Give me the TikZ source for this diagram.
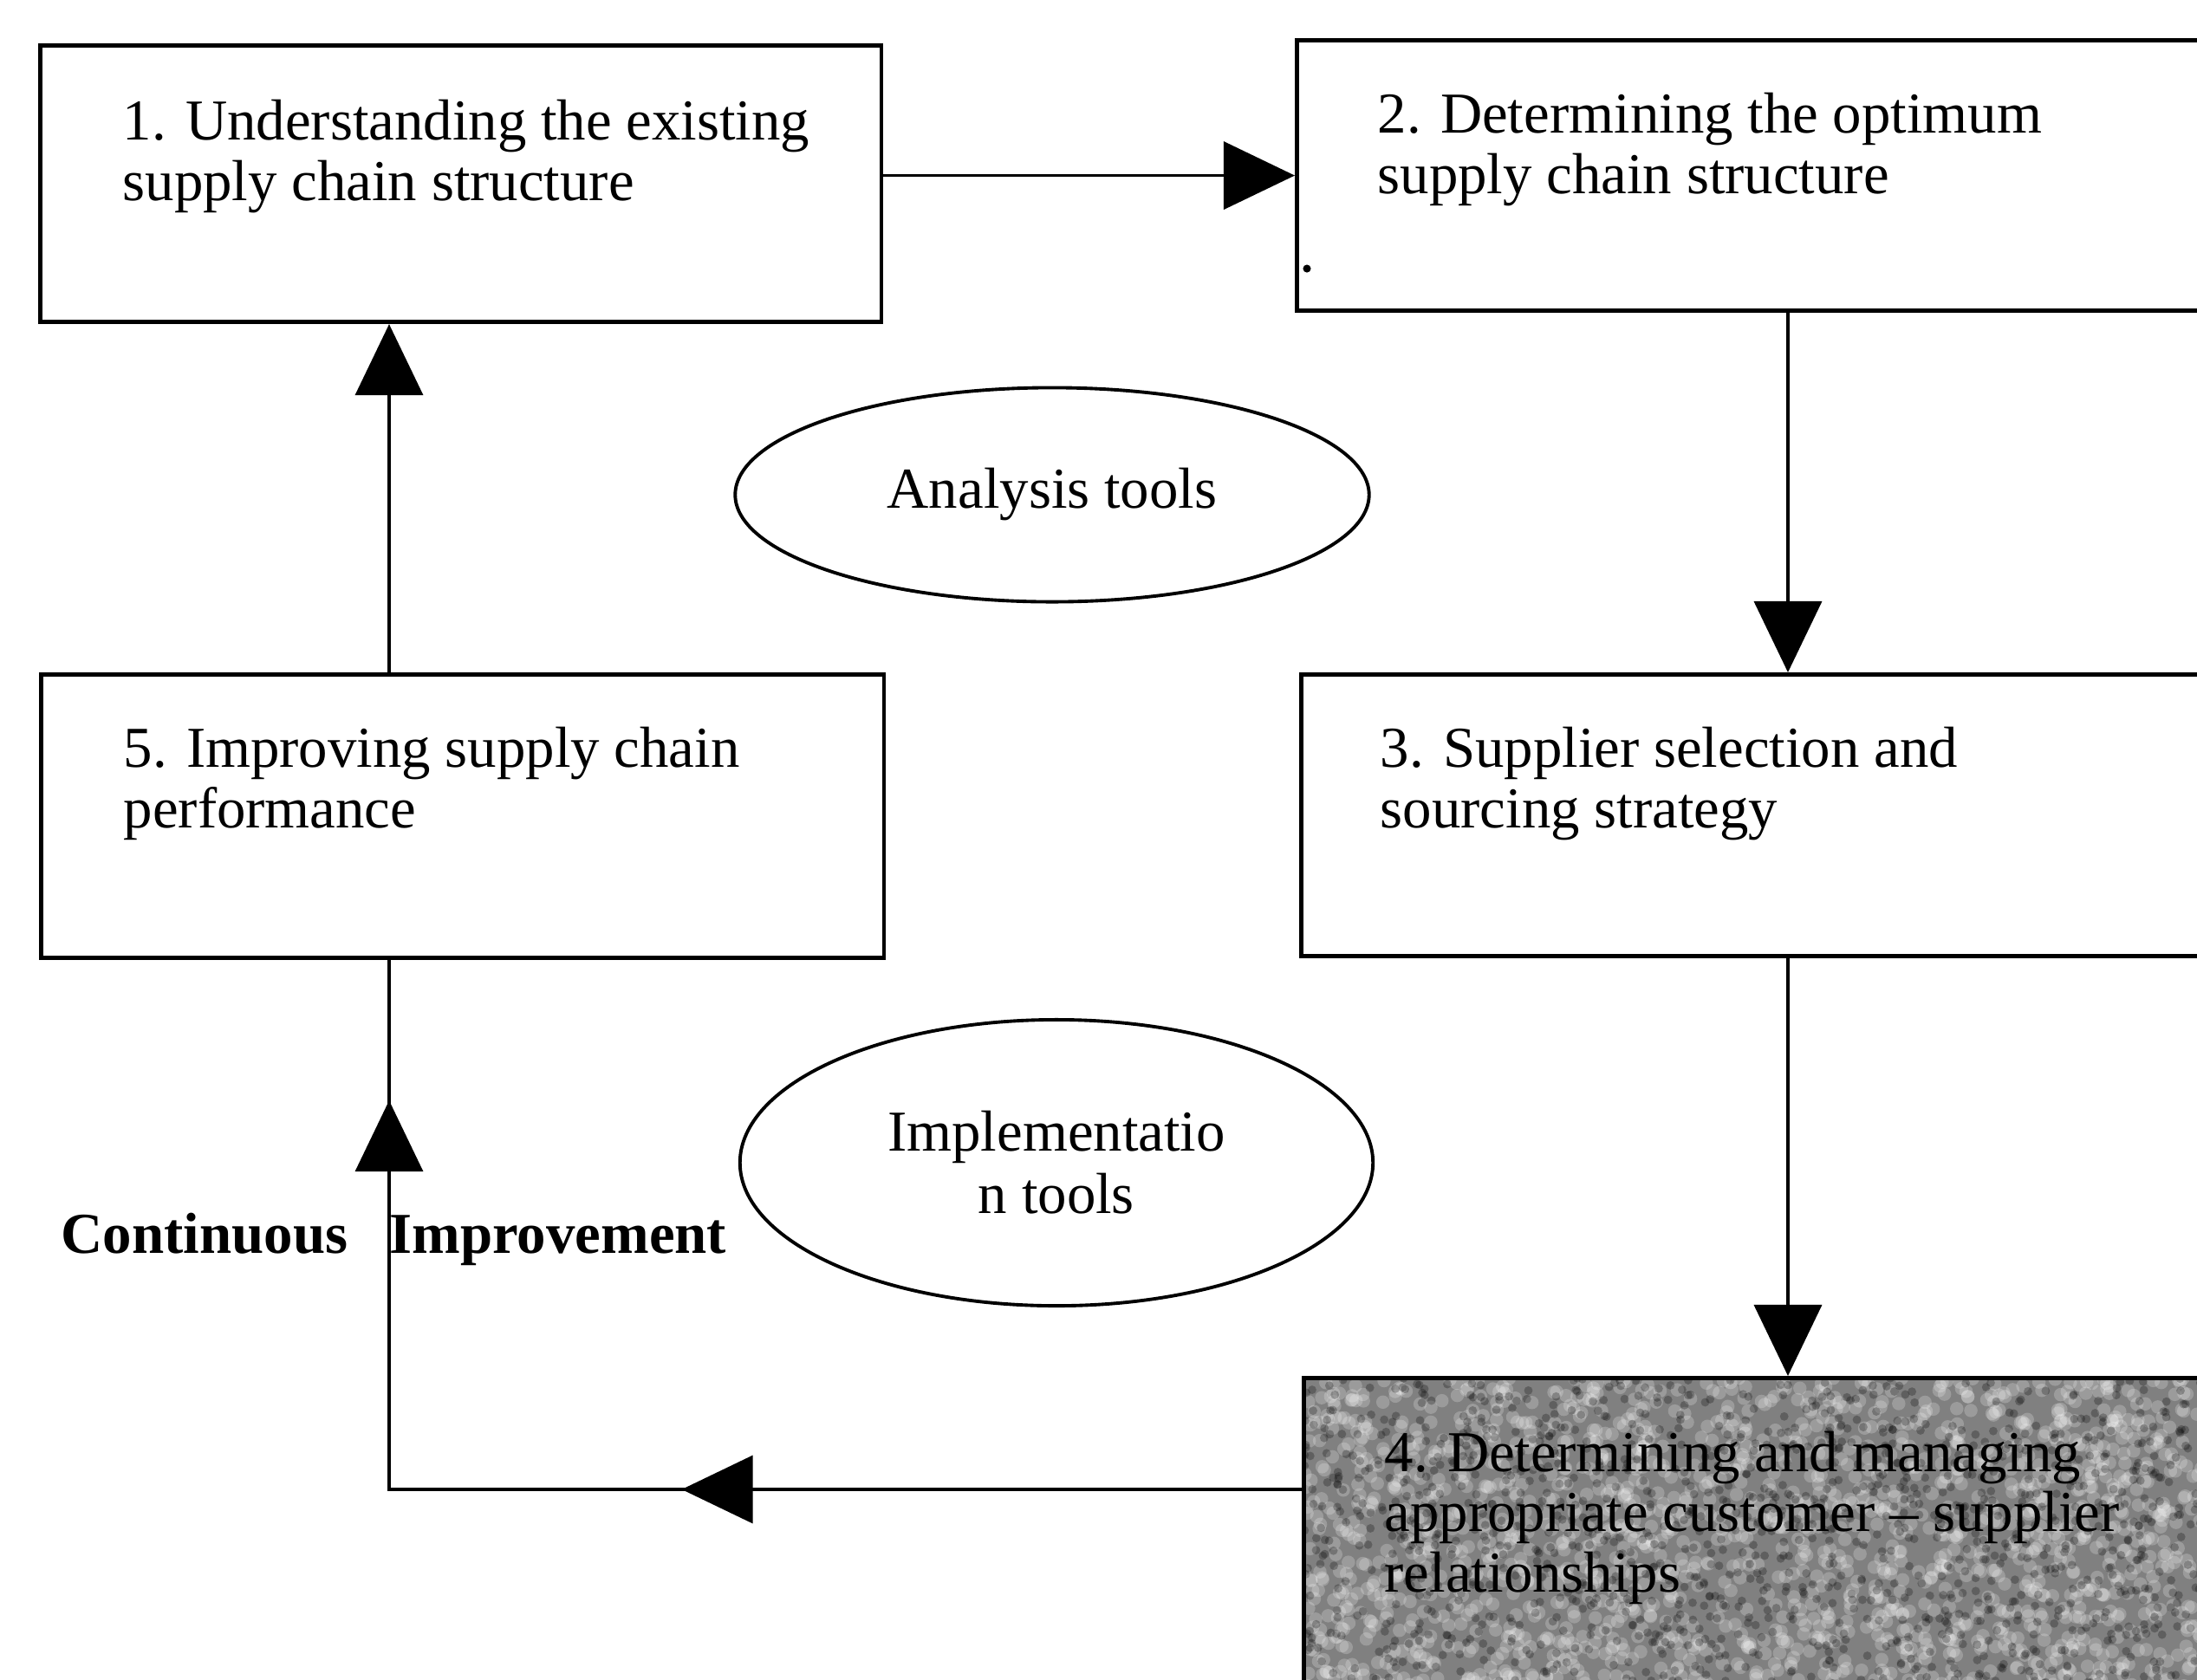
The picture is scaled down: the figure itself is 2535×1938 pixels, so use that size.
\documentclass[tikz,border=0pt]{standalone}
\usepackage{fontspec}
\setmainfont{Liberation Serif}
\usetikzlibrary{arrows.meta,shapes.geometric,calc,decorations.markings}
\begin{document}
\begin{tikzpicture}[x=0.01cm,y=-0.01cm,
  box/.style={draw, line width=1.4pt, rectangle, inner sep=0pt, anchor=north west},
  % anchored on the baseline of the last line of the text
  boxtext/.style={anchor=base west, align=left, inner sep=0pt,
    font=\fontsize{19}{19.7}\selectfont},
  oval/.style={draw, line width=1.1pt, ellipse, inner sep=0pt, align=center,
    font=\fontsize{19}{20.5}\selectfont},
  cilabel/.style={anchor=base west, inner sep=0pt, font=\fontsize{19}{20.5}\selectfont\bfseries},
  link/.style={line width=1pt},
  bigtip/.tip={Triangle[length=0.82cm,width=0.78cm]},
  head/.style={-bigtip},
]
\useasboundingbox (0,0) rectangle (2535,1938);
\clip (0,0) rectangle (2535,1938);
\fill[white] (0,0) rectangle (2535,1938);

% the five stages
\node[box, minimum width=9.70cm, minimum height=3.19cm] (b1) at (44,50) {};
\node[box, minimum width=10.66cm, minimum height=3.12cm] (b2) at (1494,44) {};
\node[box, minimum width=10.61cm, minimum height=3.25cm] (b3) at (1499,776) {};
\node[box, minimum width=9.72cm, minimum height=3.27cm] (b5) at (45,776) {};
\node[box, minimum width=10.58cm, minimum height=3.72cm, fill=black!50,
  path picture={
    \pgfmathsetseed{12}
    \foreach \i in {1,...,1800}{
      \fill[white, opacity=0.22]
        ($(path picture bounding box.north west)+({rnd*1060},{rnd*372})$) circle (2.2pt);
    }
    \foreach \i in {1,...,1400}{
      \fill[black, opacity=0.25]
        ($(path picture bounding box.north west)+({rnd*1060},{rnd*372})$) circle (1.4pt);
    }
  }] (b4) at (1502,1588) {};

\node[boxtext] (t1) at ($(b1.north west)+(97,181)$) {1. Understanding the existing\\supply chain structure};
\node[boxtext] (t2) at ($(b2.north west)+(95,179)$) {2. Determining the optimum\\supply chain structure};
\node[boxtext] (t3) at ($(b3.north west)+(93,179)$) {3. Supplier selection and\\sourcing strategy};
\node[boxtext] (t5) at ($(b5.north west)+(97,179)$) {5. Improving supply chain\\performance};
\node[boxtext] (t4) at ($(b4.north west)+(95,249)$) {4. Determining and managing\\appropriate customer -- supplier\\relationships};

\fill (1508,310) circle (1.3pt);

% tool ovals
\node[oval, minimum width=7.31cm, minimum height=2.47cm] (e1) at (1214,571) {Analysis tools};
\node[oval, minimum width=7.30cm, minimum height=3.30cm] (e2) at (1219,1342) {Implementatio\\n tools};

% connectors
\coordinate (colL) at (449,0);
\coordinate (colR) at (2063,0);
\coordinate (rowD) at (0,1719);

\draw[link, head] (b1.east |- b2.west) -- (b2.west);
\draw[link, head] (b2.south -| colR) -- (b3.north -| colR);
\draw[link, head] (b3.south -| colR) -- (b4.north -| colR);
\draw[link, postaction=decorate, decoration={markings,
    mark=at position 7.15cm with {\arrow{bigtip}},
    mark=at position 15.01cm with {\arrow{bigtip}}}]
  (b4.west |- rowD) -- (colL |- rowD) -- (b5.south -| colL);
\draw[link, head] (b5.north -| colL) -- (b1.south -| colL);

\node[cilabel] (ci1) at (70,1446) {Continuous};
\node[cilabel] (ci2) at (449,1446) {Improvement};
\end{tikzpicture}
\end{document}
